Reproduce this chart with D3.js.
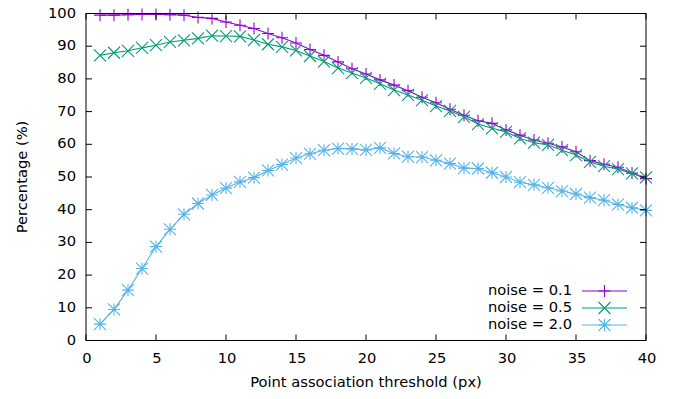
<!DOCTYPE html>
<html><head><meta charset="utf-8">
<script src="https://cdn.jsdelivr.net/npm/d3@7"></script>
<style>
html,body{margin:0;padding:0;background:#fff;}
svg{display:block;font-family:"DejaVu Sans",sans-serif;}
</style></head>
<body><svg id="chart" width="675" height="399"></svg>
<script>
const thresholds = d3.range(1, 41);
const noise01 = [99.5,99.5,99.6,99.7,99.7,99.6,99.5,98.8,98.5,97.4,96.4,95.4,93.9,92.6,91.0,89.0,87.2,85.2,83.1,81.5,79.7,78.1,76.4,74.4,72.7,70.7,68.9,67.2,66.4,64.4,62.8,61.3,60.3,59.2,57.7,55.0,53.9,53.0,51.2,49.5];
const noise05 = [87.2,88.0,88.6,89.5,90.3,91.3,91.8,92.4,93.2,93.1,93.0,91.9,90.6,89.8,88.7,87.0,85.3,83.3,81.8,80.3,78.5,76.6,75.1,73.5,71.7,70.2,68.4,66.2,64.9,63.8,61.8,60.5,59.8,58.2,56.7,54.6,53.3,52.4,51.1,49.9];
const noise20 = [5.0,9.5,15.4,22.0,28.7,34.0,38.6,41.9,44.5,46.6,48.5,49.8,52.0,53.8,55.8,57.1,58.2,58.7,58.6,58.3,58.9,57.2,56.2,56.1,55.1,54.1,52.7,52.6,51.3,50.0,48.4,47.6,46.7,45.7,44.8,43.7,42.9,41.6,40.6,39.8];
const seriesNames = ["noise = 0.1", "noise = 0.5", "noise = 2.0"];
const xTicks = [0,5,10,15,20,25,30,35,40];
const yTicks = [0,10,20,30,40,50,60,70,80,90,100];
const xLabel = "Point association threshold (px)";
const yLabel = "Percentage (%)";

const colors = ["#9400d3", "#009e73", "#56b4e9"];
const markers = ["plus", "cross", "star"];
const seriesData = [noise01, noise05, noise20];

const svg = d3.select("#chart");
const L = 86, R = 646, T = 13.5, B = 340.5;
const x = d3.scaleLinear().domain([0, 40]).range([L, R]);
const y = d3.scaleLinear().domain([0, 100]).range([B, T]);
const fs = 14.7;

function marker(g, type, cx, cy, color) {
  const s = 6;
  let d;
  if (type === "plus") d = `M${cx-s},${cy}H${cx+s}M${cx},${cy-s}V${cy+s}`;
  else if (type === "cross") d = `M${cx-s},${cy-s}L${cx+s},${cy+s}M${cx-s},${cy+s}L${cx+s},${cy-s}`;
  else d = `M${cx-s},${cy}H${cx+s}M${cx},${cy-s}V${cy+s}M${cx-s},${cy-s}L${cx+s},${cy+s}M${cx-s},${cy+s}L${cx+s},${cy-s}`;
  g.append("path").attr("d", d).attr("stroke", color).attr("stroke-width", 1.1).attr("fill", "none");
}

// series
seriesData.forEach((vals, i) => {
  const g = svg.append("g");
  const line = d3.line().x((d, j) => x(thresholds[j])).y(d => y(d));
  g.append("path").datum(vals).attr("d", line).attr("fill", "none")
    .attr("stroke", colors[i]).attr("stroke-width", 1.1);
  vals.forEach((v, j) => marker(g, markers[i], x(thresholds[j]), y(v), colors[i]));
});

// axes with inward ticks on all sides
const axG = svg.append("g");
const tl = 6;
xTicks.forEach(t => {
  axG.append("line").attr("x1", x(t)).attr("x2", x(t)).attr("y1", B).attr("y2", B - tl).attr("stroke", "#000");
  axG.append("line").attr("x1", x(t)).attr("x2", x(t)).attr("y1", T).attr("y2", T + tl).attr("stroke", "#000");
  axG.append("text").attr("x", x(t) + 1).attr("y", B + 18).attr("text-anchor", "middle")
    .attr("dominant-baseline", "middle").attr("font-size", fs).text(t);
});
yTicks.forEach(t => {
  axG.append("line").attr("x1", L).attr("x2", L + tl).attr("y1", y(t)).attr("y2", y(t)).attr("stroke", "#000");
  axG.append("line").attr("x1", R).attr("x2", R - tl).attr("y1", y(t)).attr("y2", y(t)).attr("stroke", "#000");
  axG.append("text").attr("x", L - 10).attr("y", y(t)).attr("text-anchor", "end")
    .attr("dominant-baseline", "middle").attr("font-size", fs).text(t);
});
axG.append("rect").attr("x", L).attr("y", T).attr("width", R - L).attr("height", B - T)
  .attr("fill", "none").attr("stroke", "#000").attr("stroke-width", 1);

svg.append("text").attr("x", 366).attr("y", 383).attr("text-anchor", "middle")
  .attr("dominant-baseline", "middle").attr("font-size", fs).text(xLabel);
svg.append("text").attr("transform", "translate(23,177) rotate(-90)").attr("text-anchor", "middle")
  .attr("dominant-baseline", "middle").attr("font-size", fs).text(yLabel);

// legend
const legY = [291, 308, 325];
seriesNames.forEach((name, i) => {
  const g = svg.append("g");
  g.append("text").attr("x", 572).attr("y", legY[i]).attr("text-anchor", "end")
    .attr("dominant-baseline", "middle").attr("font-size", fs).text(name);
  g.append("line").attr("x1", 582).attr("x2", 627).attr("y1", legY[i]).attr("y2", legY[i])
    .attr("stroke", colors[i]).attr("stroke-width", 1.1);
  marker(g, markers[i], 604.5, legY[i], colors[i]);
});
</script></body></html>
